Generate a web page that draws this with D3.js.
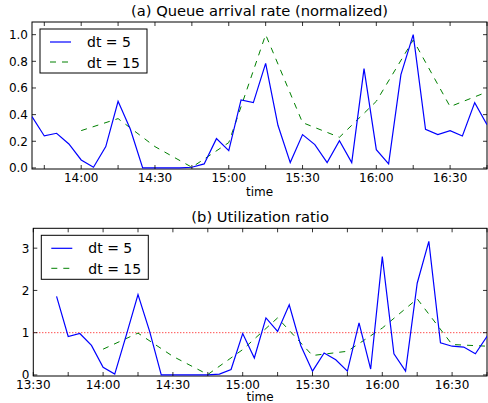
<!DOCTYPE html>
<html>
<head>
<meta charset="utf-8">
<script src="https://cdn.jsdelivr.net/npm/d3@7"></script>
<style>
  body { margin: 0; background: #fff; }
  svg { font-family: "DejaVu Sans", sans-serif; }
</style>
</head>
<body>
<svg id="chart" width="488" height="403"></svg>
<script>
// series
const arrivalFine = [0.385, 0.24, 0.26, 0.18, 0.06, 0.005, 0.16, 0.50, 0.29, 0.0, 0.0, 0.0, 0.0, 0.005,
  0.03, 0.22, 0.13, 0.51, 0.49, 0.785, 0.32, 0.04, 0.25, 0.175, 0.04, 0.205, 0.04, 0.745, 0.137,
  0.03, 0.70, 1.0, 0.29, 0.25, 0.28, 0.24, 0.49, 0.325];
const arrivalCoarse = [0.28, 0.37, 0.16, 0.005, 0.19, 1.0, 0.34, 0.23, 0.50, 0.96, 0.46, 0.57];
const utilFine = [1.86, 0.91, 0.98, 0.70, 0.18, 0.02, 0.95, 1.90, 1.03, 0.0, 0.0, 0.0, 0.0, 0.0, 0.02,
  0.13, 0.98, 0.40, 1.35, 1.03, 1.66, 0.69, 0.09, 0.52, 0.36, 0.09, 1.23, 0.14, 2.80, 0.50, 0.09,
  2.17, 3.16, 0.76, 0.68, 0.66, 0.50, 0.91, 0.61];
const utilCoarse = [0.61, 0.99, 0.44, 0.01, 0.60, 1.35, 0.46, 0.56, 1.11, 1.80, 0.72, 0.68];

// start times (minutes since midnight) and steps
const fineStart = 13 * 60 + 40;
const coarseStart = 14 * 60;
const legendLabels = ['dt = 5', 'dt = 15'];

const svg = d3.select('#chart');

function toPoints(values, start, step) {
  return values.map((v, i) => ({ t: start + i * step, v: v }));
}

function fmtTime(m) {
  const h = Math.floor(m / 60), mm = m % 60;
  return h + ':' + (mm < 10 ? '0' : '') + mm;
}

function panel(opts) {
  const x = d3.scaleLinear().domain(opts.xDomain).range([opts.left, opts.right]);
  const y = d3.scaleLinear().domain(opts.yDomain).range([opts.bottom, opts.top]);
  const g = svg.append('g');

  const clipId = 'clip' + opts.id;
  svg.append('clipPath').attr('id', clipId)
    .append('rect')
    .attr('x', opts.left).attr('y', opts.top)
    .attr('width', opts.right - opts.left).attr('height', opts.bottom - opts.top);

  // frame
  g.append('rect')
    .attr('x', opts.left).attr('y', opts.top)
    .attr('width', opts.right - opts.left).attr('height', opts.bottom - opts.top)
    .attr('fill', 'none').attr('stroke', '#000').attr('stroke-width', 1);

  const plot = g.append('g').attr('clip-path', 'url(#' + clipId + ')');

  // reference line
  if (opts.refLine !== undefined) {
    plot.append('line')
      .attr('x1', opts.left).attr('x2', opts.right)
      .attr('y1', y(opts.refLine)).attr('y2', y(opts.refLine))
      .attr('stroke', '#ff0000').attr('stroke-width', 1)
      .attr('stroke-dasharray', '1 2');
  }

  const line = d3.line().x(d => x(d.t)).y(d => y(d.v));
  plot.append('path')
    .datum(toPoints(opts.coarse, coarseStart, 15))
    .attr('d', line)
    .attr('fill', 'none').attr('stroke', '#008000').attr('stroke-width', 1)
    .attr('stroke-dasharray', '6 6');
  plot.append('path')
    .datum(toPoints(opts.fine, fineStart, 5))
    .attr('d', line)
    .attr('fill', 'none').attr('stroke', '#0000ff').attr('stroke-width', 1.2);

  // ticks inside on all sides
  const xTicks = d3.range(Math.ceil(opts.xDomain[0] / 15) * 15, opts.xDomain[1] + 1, 15);
  const tk = g.append('g').attr('stroke', '#000').attr('stroke-width', 0.8);
  xTicks.forEach(t => {
    const px = x(t);
    tk.append('line').attr('x1', px).attr('x2', px).attr('y1', opts.bottom).attr('y2', opts.bottom - 4);
    tk.append('line').attr('x1', px).attr('x2', px).attr('y1', opts.top).attr('y2', opts.top + 4);
  });
  opts.yTicks.forEach(v => {
    const py = y(v);
    tk.append('line').attr('x1', opts.left).attr('x2', opts.left + 4).attr('y1', py).attr('y2', py);
    tk.append('line').attr('x1', opts.right).attr('x2', opts.right - 4).attr('y1', py).attr('y2', py);
  });

  // tick labels
  xTicks.filter(t => t % 30 === 0).forEach(t => {
    g.append('text')
      .attr('x', x(t)).attr('y', opts.bottom + 13)
      .attr('text-anchor', 'middle').attr('font-size', 12).attr('fill', '#000')
      .text(fmtTime(t));
  });
  opts.yTicks.forEach(v => {
    g.append('text')
      .attr('x', opts.left - 4).attr('y', y(v) + 4.5)
      .attr('text-anchor', 'end').attr('font-size', 12).attr('fill', '#000')
      .text(opts.yFormat(v));
  });

  // title & axis label
  g.append('text')
    .attr('x', (opts.left + opts.right) / 2).attr('y', opts.top - 6)
    .attr('text-anchor', 'middle').attr('font-size', 14.7).attr('fill', '#000')
    .text(opts.title);
  g.append('text')
    .attr('x', (opts.left + opts.right) / 2).attr('y', opts.bottom + opts.xLabelGap)
    .attr('text-anchor', 'middle').attr('font-size', 12).attr('fill', '#000')
    .text('time');

  // legend
  const lg = g.append('g').attr('transform', 'translate(' + (opts.left + 8) + ',' + (opts.top + 7) + ')');
  lg.append('rect').attr('x', 0).attr('y', 0).attr('width', 107).attr('height', 44)
    .attr('fill', '#fff').attr('stroke', '#000').attr('stroke-width', 1);
  lg.append('line').attr('x1', 10).attr('x2', 31).attr('y1', 13).attr('y2', 13)
    .attr('stroke', '#0000ff').attr('stroke-width', 1.2);
  lg.append('line').attr('x1', 10).attr('x2', 31).attr('y1', 33).attr('y2', 33)
    .attr('stroke', '#008000').attr('stroke-width', 1).attr('stroke-dasharray', '6 6');
  legendLabels.forEach((s, i) => {
    lg.append('text').attr('x', 47).attr('y', 18 + i * 21)
      .attr('font-size', 14).attr('fill', '#000').text(s);
  });
}

panel({
  id: 'a', title: '(a) Queue arrival rate (normalized)',
  left: 32, right: 487, top: 22, bottom: 169,
  xDomain: [13 * 60 + 40, 16 * 60 + 45], yDomain: [-0.008, 1.095],
  yTicks: [0, 0.2, 0.4, 0.6, 0.8, 1.0], yFormat: d3.format('.1f'),
  fine: arrivalFine, coarse: arrivalCoarse, xLabelGap: 27
});

panel({
  id: 'b', title: '(b) Utilization ratio',
  left: 33.3, right: 487, top: 228.3, bottom: 376,
  xDomain: [13 * 60 + 30, 16 * 60 + 45], yDomain: [-0.025, 3.47],
  yTicks: [0, 1, 2, 3], yFormat: d3.format('d'),
  fine: utilFine, coarse: utilCoarse, refLine: 1, xLabelGap: 24.5
});
</script>
</body>
</html>
